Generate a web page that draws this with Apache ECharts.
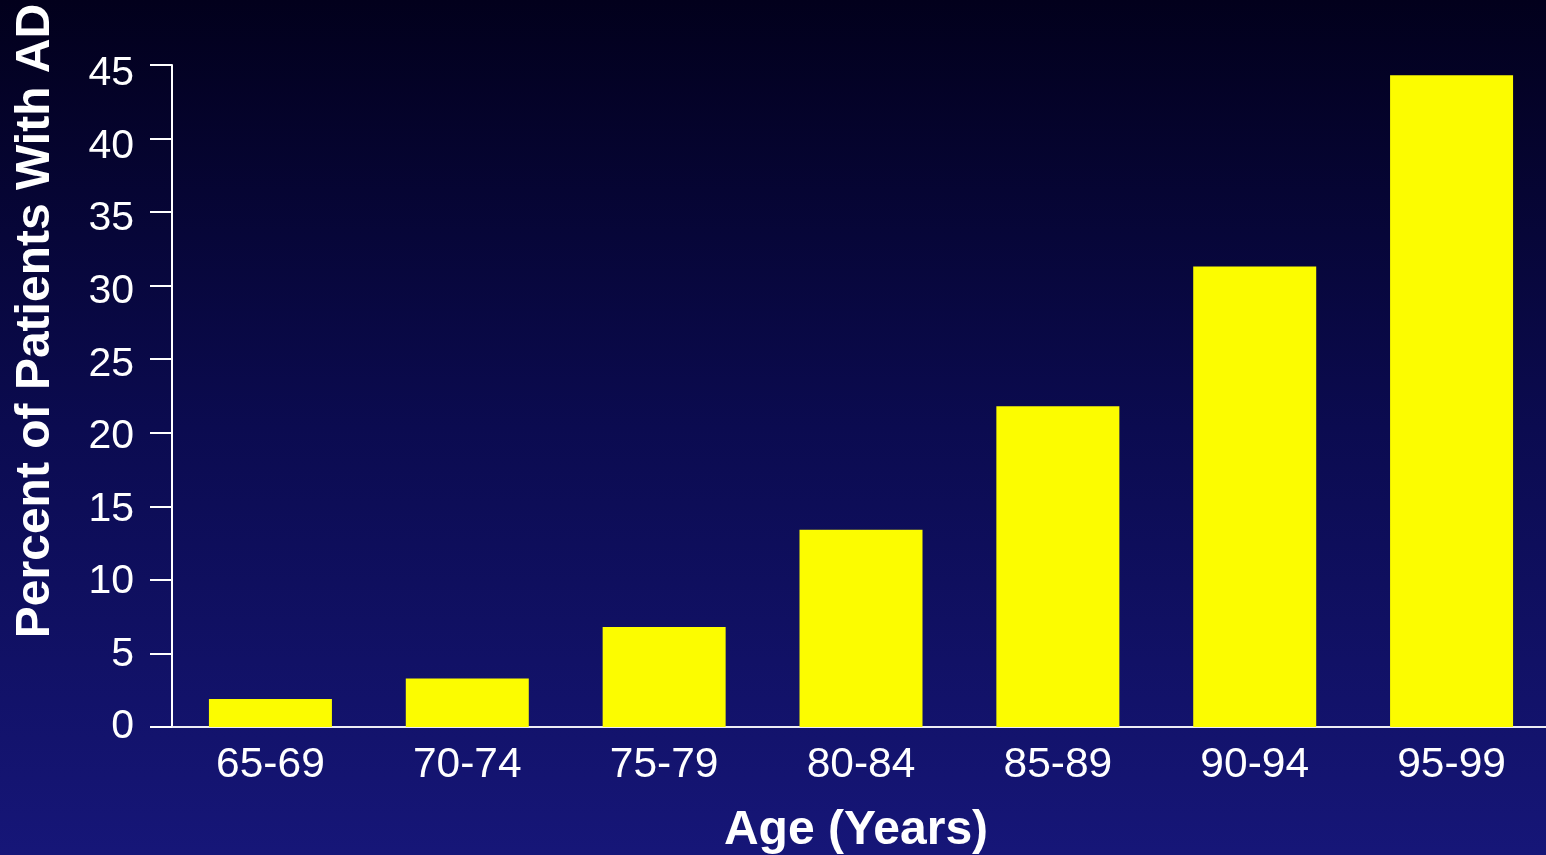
<!DOCTYPE html>
<html>
<head>
<meta charset="utf-8">
<script src="https://cdn.jsdelivr.net/npm/echarts@6/dist/echarts.min.js"></script>
<style>
  html, body { margin: 0; padding: 0; }
  #EChart { width: 1546px; height: 855px; }
</style>
</head>
<body>
<div id="EChart"></div>
<script>
// data
const ageGroups = ['65-69', '70-74', '75-79', '80-84', '85-89', '90-94', '95-99'];
const percentAD = [1.9, 3.3, 6.8, 13.4, 21.8, 31.3, 44.3];
const yTicks = { min: 0, max: 45, step: 5 };

const fontFamily = '"Liberation Sans", Arial, sans-serif';

const EChart = echarts.init(document.getElementById('EChart'));

const config = {
    backgroundColor: {
        type: 'linear', x: 0, y: 0, x2: 0, y2: 1,
        colorStops: [
            { offset: 0, color: '#02001c' },
            { offset: 0.5, color: '#0b0b50' },
            { offset: 1, color: '#161678' }
        ]
    },
    animation: false,
    grid: { left: 172, top: 65, bottom: 128, width: 1378, outerBoundsMode: 'none', containLabel: false },
    xAxis: {
        type: 'category',
        data: ageGroups,
        name: 'Age (Years)',
        nameLocation: 'middle',
        nameGap: 80,
        nameTextStyle: { color: '#ffffff', fontSize: 48, fontWeight: 'bold', fontFamily: fontFamily, padding: [0, 10, 0, 0] },
        axisLine: { show: true, lineStyle: { color: '#ececf4', width: 2 } },
        axisTick: { show: false },
        axisLabel: { color: '#ffffff', fontSize: 42.5, fontFamily: fontFamily, margin: 17 }
    },
    yAxis: [{
        type: 'value',
        min: yTicks.min,
        max: yTicks.max,
        interval: yTicks.step,
        splitLine: { show: false },
        axisLine: { show: true, lineStyle: { color: '#ffffff', width: 2 } },
        axisTick: { show: true, length: 22, lineStyle: { color: '#ffffff', width: 2 } },
        axisLabel: { show: false }
    }, {
        // labels only: in the original they sit on a slightly shorter scale than the ticks
        type: 'value',
        position: 'left',
        min: yTicks.min,
        max: yTicks.max * 662 / 653,
        interval: yTicks.step,
        splitLine: { show: false },
        axisLine: { show: false },
        axisTick: { show: false },
        axisLabel: {
            color: '#ffffff', fontSize: 41, fontFamily: fontFamily, margin: 38,
            formatter: function (v) { return v % yTicks.step === 0 ? String(v) : ''; }
        }
    }],
    graphic: [{
        type: 'text',
        x: 36,
        y: 321,
        rotation: Math.PI / 2,
        style: {
            text: 'Percent of Patients With AD',
            fill: '#ffffff',
            font: 'bold 48px ' + fontFamily,
            textAlign: 'center',
            textVerticalAlign: 'middle'
        }
    }],
    series: [{
        type: 'bar',
        yAxisIndex: 0,
        data: percentAD,
        barWidth: 123,
        itemStyle: { color: '#fcfc00' }
    }]
};

EChart.setOption(config);
</script>
</body>
</html>
